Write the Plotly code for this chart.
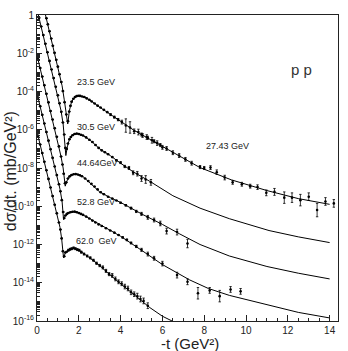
import plotly.graph_objects as go

# ---------------- fitted curves: t (GeV^2), log10(dsigma/dt) as plotted ----------------
fit_t_235 = [0.0, 0.2, 0.4, 0.6, 0.8, 1.0, 1.2, 1.3, 1.4, 1.47, 1.55, 1.65, 1.8, 2.0, 2.3, 2.6, 3.0, 3.5, 4.0, 4.6, 5.4, 6.0, 7.0, 7.8, 9.3, 11.0, 12.5, 14.0]
fit_l_235 = [1.9, 0.95, 0.05, -0.85, -1.8, -2.7, -3.7, -4.4, -5.2, -5.7, -5.0, -4.55, -4.3, -4.22, -4.3, -4.5, -4.82, -5.2, -5.57, -6.0, -6.5, -6.88, -7.5, -7.98, -8.62, -9.18, -9.6, -9.9]

fit_t_305 = [0.0, 0.2, 0.4, 0.6, 0.8, 1.0, 1.15, 1.25, 1.32, 1.38, 1.45, 1.55, 1.7, 1.9, 2.2, 2.6, 3.0, 3.5, 4.0, 4.6, 5.4, 6.5, 7.8, 9.2, 11.1, 12.5, 14.0]
fit_l_305 = [0.3, -0.6, -1.5, -2.4, -3.3, -4.2, -5.0, -5.7, -6.5, -7.35, -6.9, -6.5, -6.28, -6.2, -6.3, -6.6, -7.0, -7.35, -7.75, -8.2, -8.7, -9.45, -10.1, -10.65, -11.27, -11.6, -11.9]

fit_t_4464 = [0.0, 0.2, 0.4, 0.6, 0.8, 1.0, 1.15, 1.25, 1.35, 1.42, 1.55, 1.7, 1.9, 2.2, 2.6, 3.0, 3.5, 4.0, 5.07, 6.0, 6.83, 7.8, 9.2, 11.0, 12.5, 14.0]
fit_l_4464 = [-2.1, -3.0, -3.9, -4.8, -5.7, -6.6, -7.4, -8.0, -8.95, -8.7, -8.45, -8.35, -8.33, -8.45, -8.85, -9.25, -9.55, -9.8, -10.44, -10.95, -11.45, -12.0, -12.6, -13.15, -13.5, -13.8]

fit_t_528 = [0.0, 0.2, 0.4, 0.6, 0.8, 1.0, 1.1, 1.2, 1.27, 1.35, 1.5, 1.74, 1.95, 2.2, 2.6, 3.0, 3.5, 4.0, 5.0, 6.0, 7.3, 8.2, 9.2, 11.0, 12.5, 14.0]
fit_l_528 = [-4.1, -5.0, -5.9, -6.8, -7.7, -8.6, -9.1, -9.75, -10.7, -10.5, -10.35, -10.29, -10.32, -10.45, -10.7, -10.98, -11.27, -11.57, -12.3, -13.05, -13.85, -14.3, -14.66, -15.15, -15.55, -15.84]

fit_t_620 = [0.0, 0.2, 0.4, 0.6, 0.8, 1.0, 1.1, 1.18, 1.27, 1.35, 1.5, 1.75, 2.0, 2.4, 3.0, 3.5, 4.0, 4.7, 5.4, 6.0, 6.6, 7.2]
fit_l_620 = [-6.1, -7.0, -7.9, -8.8, -9.7, -10.6, -11.1, -11.7, -12.7, -12.45, -12.3, -12.2, -12.3, -12.6, -13.1, -13.6, -14.04, -14.7, -15.3, -15.75, -16.1, -16.4]

# ---------------- measured points: (t, log10 value, error in decades) ----------------
data_235 = [(0.45, -0.17, 0), (0.52, -0.49, 0), (0.6, -0.85, 0), (0.68, -1.23, 0), (0.76, -1.61, 0),
            (0.84, -1.98, 0), (0.92, -2.34, 0), (1.0, -2.7, 0), (1.08, -3.1, 0), (1.16, -3.5, 0),
            (1.24, -3.98, 0), (1.32, -4.56, 0), (1.4, -5.2, 0), (1.48, -5.55, 0), (1.54, -5.05, 0),
            (1.6, -4.75, 0), (1.66, -4.53, 0), (1.74, -4.38, 0), (1.82, -4.29, 0), (1.9, -4.24, 0),
            (1.98, -4.22, 0), (2.06, -4.23, 0), (2.16, -4.26, 0), (2.26, -4.29, 0), (2.38, -4.36, 0),
            (2.5, -4.43, 0), (2.62, -4.52, 0), (2.76, -4.63, 0), (2.9, -4.74, 0), (3.04, -4.84, 0),
            (3.2, -4.96, 0), (3.36, -5.08, 0), (3.52, -5.21, 0.05), (3.7, -5.34, 0.05), (3.88, -5.47, 0.06),
            (4.06, -5.6, 0.1), (4.25, -5.78, 0.35), (4.45, -5.88, 0.3), (4.65, -6.08, 0.12), (4.85, -6.12, 0.15),
            (5.05, -6.3, 0.1), (5.25, -6.38, 0.12), (5.5, -6.55, 0.15), (5.75, -6.7, 0.12), (6.0, -6.92, 0.1)]

data_2743 = [(5.0, -6.25, 0.08), (5.3, -6.42, 0.08), (5.6, -6.6, 0.08), (5.9, -6.8, 0.08), (6.2, -6.98, 0.1),
             (6.5, -7.2, 0.1), (6.8, -7.35, 0.1), (7.1, -7.55, 0.1), (7.4, -7.75, 0.1), (7.8, -7.95, 0.08),
             (8.0, -8.0, 0.08), (8.3, -7.98, 0.1), (8.6, -8.22, 0.12), (8.98, -8.5, 0.12), (9.36, -8.75, 0.1),
             (9.8, -8.85, 0.1), (10.2, -8.95, 0.1), (10.55, -9.0, 0.12), (10.97, -9.3, 0.15), (11.36, -9.25, 0.18),
             (11.83, -9.55, 0.3), (12.2, -9.55, 0.25), (12.6, -9.68, 0.3), (13.0, -9.5, 0.2), (13.4, -10.2, 0.35),
             (13.8, -9.75, 0.2), (14.2, -9.85, 0.2)]

data_305 = [(0.1, -0.15, 0), (0.2, -0.6, 0), (0.3, -1.05, 0), (0.4, -1.5, 0), (0.5, -1.95, 0), (0.6, -2.4, 0),
            (0.7, -2.85, 0), (0.8, -3.3, 0), (0.9, -3.75, 0), (1.0, -4.2, 0), (1.08, -4.62, 0), (1.16, -5.06, 0),
            (1.24, -5.62, 0), (1.3, -6.25, 0), (1.36, -6.95, 0), (1.42, -7.0, 0), (1.48, -6.72, 0), (1.55, -6.5, 0),
            (1.62, -6.38, 0), (1.7, -6.29, 0), (1.8, -6.22, 0), (1.9, -6.2, 0), (2.0, -6.22, 0), (2.1, -6.26, 0),
            (2.2, -6.3, 0), (2.35, -6.4, 0), (2.5, -6.52, 0), (2.65, -6.64, 0), (2.8, -6.8, 0), (2.95, -6.95, 0),
            (3.1, -7.08, 0), (3.25, -7.18, 0), (3.4, -7.28, 0), (3.6, -7.43, 0), (3.8, -7.6, 0.04), (4.0, -7.72, 0.05),
            (4.2, -7.92, 0.06), (4.4, -8.0, 0.08), (4.6, -8.25, 0.1), (4.8, -8.3, 0.12), (5.0, -8.55, 0.15),
            (5.2, -8.6, 0.2), (5.45, -8.75, 0.15)]

data_4464 = [(0.05, -2.32, 0), (0.15, -2.77, 0), (0.25, -3.22, 0), (0.35, -3.67, 0), (0.45, -4.12, 0),
             (0.55, -4.57, 0), (0.65, -5.02, 0), (0.75, -5.47, 0), (0.85, -5.92, 0), (0.95, -6.37, 0),
             (1.05, -6.87, 0), (1.15, -7.4, 0), (1.22, -7.82, 0), (1.28, -8.3, 0), (1.34, -8.8, 0),
             (1.4, -8.75, 0), (1.48, -8.55, 0), (1.56, -8.44, 0), (1.65, -8.37, 0), (1.75, -8.33, 0),
             (1.85, -8.32, 0), (1.95, -8.34, 0), (2.05, -8.38, 0), (2.15, -8.43, 0), (2.3, -8.55, 0),
             (2.45, -8.68, 0), (2.6, -8.83, 0), (2.75, -8.97, 0), (2.9, -9.12, 0), (3.05, -9.27, 0),
             (3.2, -9.37, 0), (3.4, -9.5, 0), (3.6, -9.6, 0), (3.8, -9.7, 0), (4.0, -9.82, 0.03),
             (4.25, -9.95, 0.04), (4.5, -10.1, 0.05), (4.75, -10.27, 0.06), (5.0, -10.4, 0.08), (5.3, -10.58, 0.1),
             (5.6, -10.72, 0.1), (5.9, -10.9, 0.12), (6.2, -11.3, 0.15), (6.7, -11.35, 0.15), (7.2, -11.95, 0.22)]

data_528 = [(0.05, -4.32, 0), (0.15, -4.77, 0), (0.25, -5.22, 0), (0.35, -5.67, 0), (0.45, -6.12, 0),
            (0.55, -6.57, 0), (0.65, -7.02, 0), (0.75, -7.47, 0), (0.85, -7.92, 0), (0.95, -8.37, 0),
            (1.05, -8.85, 0), (1.12, -9.22, 0), (1.19, -9.68, 0), (1.25, -10.3, 0), (1.3, -10.62, 0),
            (1.36, -10.48, 0), (1.43, -10.4, 0), (1.5, -10.35, 0), (1.6, -10.31, 0), (1.7, -10.29, 0),
            (1.8, -10.28, 0), (1.9, -10.31, 0), (2.0, -10.35, 0), (2.1, -10.4, 0), (2.2, -10.45, 0),
            (2.35, -10.54, 0), (2.5, -10.64, 0), (2.65, -10.75, 0), (2.8, -10.85, 0), (2.95, -10.95, 0),
            (3.1, -11.03, 0), (3.3, -11.15, 0), (3.5, -11.27, 0), (3.7, -11.38, 0), (3.9, -11.5, 0),
            (4.1, -11.63, 0.03), (4.3, -11.76, 0.04), (4.5, -11.92, 0.05), (4.75, -12.1, 0.06), (5.0, -12.28, 0.08),
            (5.3, -12.5, 0.1), (5.6, -12.72, 0.1), (6.0, -13.0, 0.12), (6.7, -13.6, 0.15), (7.2, -13.95, 0.15),
            (7.7, -14.55, 0.3), (8.26, -14.4, 0.15), (8.74, -14.7, 0.3), (9.26, -14.35, 0.15), (9.74, -14.45, 0.15)]

data_620 = [(0.05, -6.32, 0), (0.15, -6.77, 0), (0.25, -7.22, 0), (0.35, -7.67, 0), (0.45, -8.12, 0),
            (0.55, -8.57, 0), (0.65, -9.02, 0), (0.75, -9.47, 0), (0.85, -9.92, 0), (0.95, -10.37, 0),
            (1.05, -10.85, 0), (1.12, -11.22, 0), (1.18, -11.68, 0), (1.24, -12.35, 0), (1.3, -12.62, 0),
            (1.36, -12.42, 0), (1.42, -12.38, 0), (1.5, -12.3, 0.05), (1.58, -12.25, 0.05), (1.66, -12.22, 0.05),
            (1.75, -12.18, 0.05), (1.84, -12.22, 0.05), (1.93, -12.27, 0.05), (2.02, -12.3, 0.05), (2.12, -12.4, 0.05),
            (2.25, -12.5, 0.05), (2.4, -12.6, 0.05), (2.55, -12.7, 0.05), (2.7, -12.82, 0.05), (2.85, -12.98, 0.06),
            (3.0, -13.1, 0.06), (3.15, -13.2, 0.08), (3.3, -13.38, 0.08), (3.45, -13.55, 0.08), (3.6, -13.62, 0.1),
            (3.75, -13.8, 0.1), (3.9, -13.95, 0.1), (4.05, -14.05, 0.1), (4.2, -14.2, 0.12), (4.35, -14.3, 0.12),
            (4.5, -14.5, 0.12), (4.65, -14.6, 0.12), (4.8, -14.7, 0.15), (4.95, -14.85, 0.15), (5.1, -14.95, 0.15),
            (5.3, -15.2, 0.15)]

x_tick_vals = [0, 2, 4, 6, 8, 10, 12, 14]
x_tick_text = ["0", "2", "4", "6", "8", "10", "12", "14"]
y_label_decades = [0, -2, -4, -6, -8, -10, -12, -14, -16]

fits = [(fit_t_235, fit_l_235), (fit_t_305, fit_l_305), (fit_t_4464, fit_l_4464),
        (fit_t_528, fit_l_528), (fit_t_620, fit_l_620)]
datasets = [data_235, data_2743, data_305, data_4464, data_528, data_620]

fig = go.Figure()
for t, lg in fits:
    fig.add_trace(go.Scatter(x=t, y=[10 ** v for v in lg], mode="lines",
                             line=dict(color="black", width=1), showlegend=False, hoverinfo="skip"))

for ds in datasets:
    xs = [p[0] for p in ds]
    ys = [10 ** p[1] for p in ds]
    up = [10 ** (p[1] + p[2]) - 10 ** p[1] for p in ds]
    dn = [10 ** p[1] - 10 ** (p[1] - p[2]) for p in ds]
    fig.add_trace(go.Scatter(x=xs, y=ys, mode="markers",
                             marker=dict(symbol="circle", size=2.6, color="black"),
                             error_y=dict(type="data", symmetric=False, array=up, arrayminus=dn,
                                          thickness=0.8, width=1.2, color="black"),
                             showlegend=False, hoverinfo="skip"))

FONT = "Liberation Sans, Arial, sans-serif"

x_minor = [v / 2 for v in range(1, 29) if v % 4 != 0]
y_major = [10.0 ** d for d in y_label_decades]
y_text = ["1" if d == 0 else "10<sup>%d</sup>" % d for d in y_label_decades]
y_minor = [m * 10.0 ** d for d in range(-16, 0) for m in range(1, 10) if not (m == 1 and d % 2 == 0)]

fig.update_layout(
    width=348, height=351,
    margin=dict(l=37, r=9, t=10, b=30),
    paper_bgcolor="white", plot_bgcolor="white",
    font=dict(family=FONT, color="#222", size=11),
    xaxis=dict(range=[0, 14.4], showline=True, linecolor="#222", linewidth=1, mirror=True,
               ticks="inside", ticklen=6, tickwidth=1, tickcolor="#222",
               tickvals=x_tick_vals, ticktext=x_tick_text, tickfont=dict(size=10),
               minor=dict(tickvals=x_minor, ticks="inside", ticklen=3, tickcolor="#222"),
               showgrid=False, zeroline=False),
    yaxis=dict(type="log", range=[-16, 0], showline=True, linecolor="#222", linewidth=1, mirror=True,
               ticks="inside", ticklen=5, tickwidth=1, tickcolor="#222",
               tickvals=y_major, ticktext=y_text, tickfont=dict(size=10),
               minor=dict(tickvals=y_minor, ticks="inside", ticklen=3, tickcolor="#222"),
               showgrid=False, zeroline=False),
)

labels = [("23.5 GeV", 1.83, -3.5), ("30.5 GeV", 1.83, -5.85), ("44.64GeV", 1.83, -7.75),
          ("52.8 GeV", 1.83, -9.8), ("62.0  GeV", 1.75, -11.8), ("27.43 GeV", 8.0, -6.85)]
for txt, x, y in labels:
    fig.add_annotation(x=x, y=y, xref="x", yref="y", text=txt, showarrow=False,
                       xanchor="left", yanchor="middle", font=dict(size=9, family=FONT, color="#222"))

fig.add_annotation(x=12.65, y=-2.85, xref="x", yref="y", text="p p", showarrow=False,
                   xanchor="center", yanchor="middle", font=dict(size=15, family=FONT, color="#333"))

fig.add_annotation(x=0.507, y=-0.074, xref="paper", yref="paper", text="-t (GeV²)",
                   showarrow=False, xanchor="center", yanchor="middle", borderpad=0,
                   font=dict(size=15, family=FONT, color="#222"))
fig.add_annotation(x=-0.089, y=0.49, xref="paper", yref="paper", text="dσ/dt. (mb/GeV²)",
                   showarrow=False, xanchor="center", yanchor="middle", textangle=-90, borderpad=0,
                   font=dict(size=16, family=FONT, color="#222"))

fig.write_html("out.html")
